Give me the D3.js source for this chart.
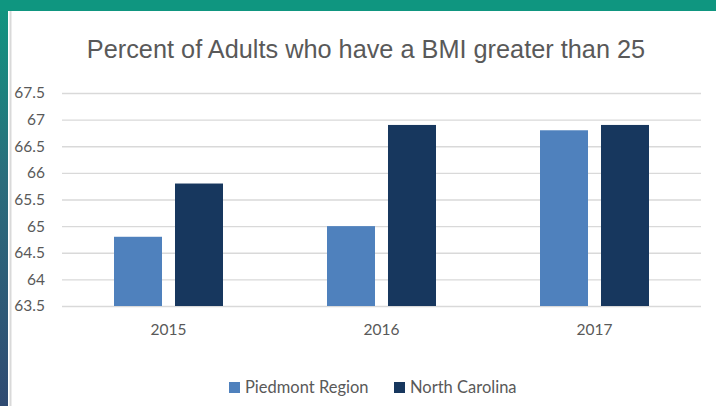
<!DOCTYPE html>
<html>
<head>
<meta charset="utf-8">
<script src="https://cdn.jsdelivr.net/npm/d3@7"></script>
<style>
  html, body { margin: 0; padding: 0; background: #ffffff; }
  svg { display: block; }
</style>
</head>
<body>
<svg id="chart" width="716" height="406"></svg>
<script>
// Chart data
const years = ["2015", "2016", "2017"];
const seriesNames = ["Piedmont Region", "North Carolina"];
const piedmont = [64.8, 65.0, 66.8];
const northCarolina = [65.8, 66.9, 66.9];
const yTicks = [63.5, 64, 64.5, 65, 65.5, 66, 66.5, 67, 67.5];
const seriesColors = ["#4f81bd", "#17375e"];

const svg = d3.select("#chart");
const W = 716, H = 406;

// Slide frame: teal top band, gradient left band, thin grey rule
const defs = svg.append("defs");
const grad = defs.append("linearGradient")
  .attr("id", "sideGrad").attr("x1", 0).attr("y1", 0).attr("x2", 0).attr("y2", 1);
grad.append("stop").attr("offset", "0%").attr("stop-color", "#0f9680");
grad.append("stop").attr("offset", "45%").attr("stop-color", "#2a6c7c");
grad.append("stop").attr("offset", "100%").attr("stop-color", "#2f4a72");

svg.append("rect").attr("x", 0).attr("y", 0).attr("width", 8).attr("height", H)
  .attr("fill", "url(#sideGrad)");
svg.append("rect").attr("x", 0).attr("y", 0).attr("width", W).attr("height", 11)
  .attr("fill", "#0f9680");
svg.append("rect").attr("x", 9.5).attr("y", 11).attr("width", 2).attr("height", H - 11)
  .attr("fill", "#d9d9d9");

// Plot area
const plot = { left: 62, right: 701, top: 93, bottom: 306 };

const x = d3.scaleBand()
  .domain(years)
  .range([plot.left, plot.right])
  .paddingInner(0)
  .paddingOuter(0);

const inner = d3.scaleBand()
  .domain(seriesNames)
  .range([52, x.bandwidth() - 52])
  .paddingInner(0.213);

const y = d3.scaleLinear()
  .domain([63.5, 67.5])
  .range([plot.bottom, plot.top]);

// Gridlines and value labels
const yAxis = d3.axisLeft(y)
  .tickValues(yTicks)
  .tickSize(-(plot.right - plot.left))
  .tickPadding(17)
  .tickFormat(d => String(d));

const gy = svg.append("g")
  .attr("transform", `translate(${plot.left},0)`)
  .call(yAxis);
gy.select(".domain").remove();
gy.selectAll(".tick line").attr("stroke", "#d9d9d9").attr("stroke-width", 1.3);
gy.selectAll(".tick text")
  .attr("fill", "#595959")
  .attr("font-family", "Lato, 'Open Sans', sans-serif")
  .attr("font-size", 15.5);

// Bars
const data = years.map((yr, i) => ({ year: yr, values: [piedmont[i], northCarolina[i]] }));
const groups = svg.append("g").selectAll("g")
  .data(data)
  .join("g")
  .attr("transform", d => `translate(${x(d.year)},0)`);

groups.selectAll("rect")
  .data(d => d.values.map((v, j) => ({ name: seriesNames[j], value: v, j })))
  .join("rect")
  .attr("x", d => inner(d.name))
  .attr("width", inner.bandwidth())
  .attr("y", d => y(d.value))
  .attr("height", d => y(63.5) - y(d.value))
  .attr("fill", d => seriesColors[d.j]);

// Year labels
const xAxis = d3.axisBottom(x).tickSize(0).tickPadding(18);
const gx = svg.append("g")
  .attr("transform", `translate(0,${plot.bottom})`)
  .call(xAxis);
gx.select(".domain").remove();
gx.selectAll(".tick text")
  .attr("fill", "#595959")
  .attr("font-family", "Lato, 'Open Sans', sans-serif")
  .attr("font-size", 15.5);

// Title
svg.append("text")
  .attr("x", 366)
  .attr("y", 58)
  .attr("text-anchor", "middle")
  .attr("fill", "#595959")
  .attr("font-family", "'Liberation Sans', Arial, sans-serif")
  .attr("font-size", 25.3)
  .text("Percent of Adults who have a BMI greater than 25");

// Legend
const legendX = [229, 394];
const legend = svg.append("g").selectAll("g")
  .data(seriesNames)
  .join("g")
  .attr("transform", (d, i) => `translate(${legendX[i]},382)`);
legend.append("rect")
  .attr("width", 11).attr("height", 11)
  .attr("fill", (d, i) => seriesColors[i]);
legend.append("text")
  .attr("x", 16).attr("y", 11)
  .attr("fill", "#595959")
  .attr("font-family", "Lato, 'Open Sans', sans-serif")
  .attr("font-size", 16.5)
  .text(d => d);
</script>
</body>
</html>
